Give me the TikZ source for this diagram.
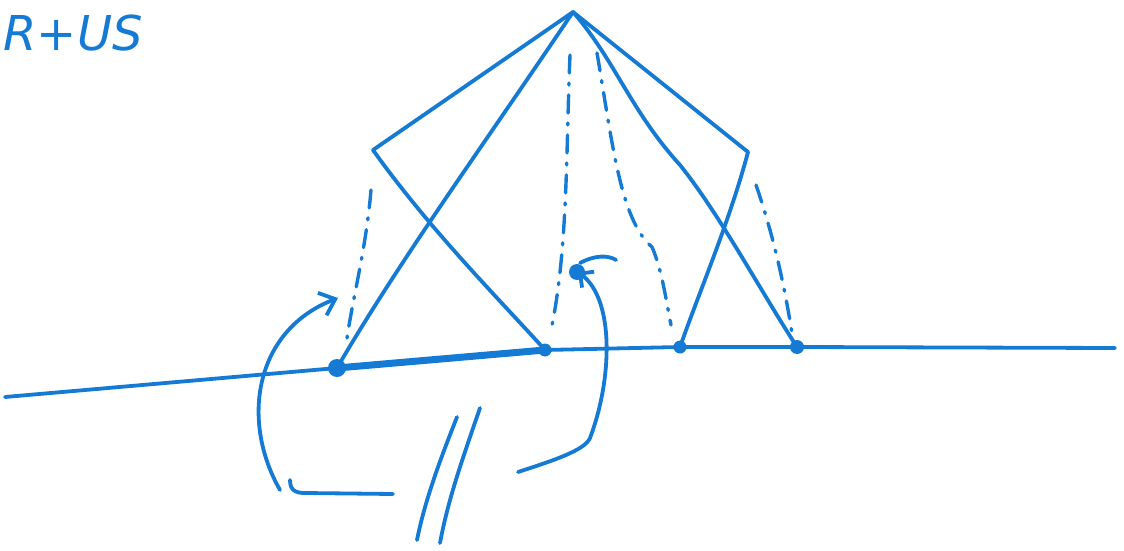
\documentclass[tikz,border=0pt]{standalone}
\usepackage{fontspec}
\setsansfont{DejaVu Sans}
\usetikzlibrary{arrows.meta}
\definecolor{ink}{RGB}{20,122,212}
\begin{document}
\begin{tikzpicture}[x=1pt,y=-1pt,
  pen/.style={draw=ink,line width=3.8pt,line cap=round,line join=round},
  dashdot/.style={draw=ink,line width=3.4pt,line cap=round,dash pattern=on 18pt off 10pt on 2pt off 10pt},
  dotnode/.style={circle,fill=ink,inner sep=0pt,minimum size=#1}]
\useasboundingbox (0,0) rectangle (1124,551);
% text
\node[anchor=west,text=ink,font=\sffamily\itshape\fontsize{48}{48}\selectfont] (title) at (0,33) {R+US};
% key points
\coordinate (A) at (573,12);
\coordinate (L) at (373,150);
\coordinate (R) at (748,152);
\coordinate (G0) at (5,397);
\coordinate (G5) at (1115,348);
\node[dotnode=18pt] (P1) at (337,368) {};
\node[dotnode=13pt] (P2) at (545,350) {};
\node[dotnode=13pt] (P3) at (680,347) {};
\node[dotnode=14pt] (P4) at (797,347) {};
% ground line
\draw[pen] (G0) -- (P1.center) -- (P2.center) -- (P3.center) -- (P4.center) -- (G5);
\draw[draw=ink,line width=7pt,line cap=round] (P1.center) -- (P2.center);
% roof
\draw[pen] (L) -- (A) -- (R);
\draw[pen] (L) .. controls (430,230) and (500,300) .. (P2.center);
\draw[pen] (A) .. controls (480,150) and (400,260) .. (P1.center);
\draw[pen] (R) .. controls (730,220) and (700,290) .. (P3.center);
\draw[pen] (A) .. controls (615,60) and (630,110) .. (680,165) .. controls (720,215) and (760,290) .. (P4.center);
% dash-dot projections
\draw[dashdot] (371,190) .. controls (366,250) and (352,300) .. (346,345);
\draw[dashdot] (570,55) .. controls (566,150) and (568,250) .. (551,330);
\draw[dashdot] (597,53) .. controls (612,140) and (620,220) .. (652,247) .. controls (662,270) and (666,300) .. (671,325);
\draw[dashdot] (756,185) .. controls (775,240) and (785,290) .. (792,333);
% left arrow
\coordinate (la0) at (280,490);
\coordinate (la1) at (338,298);
\draw[pen,-{Straight Barb[length=14pt,width=24pt]}] (la0) .. controls (240,420) and (255,330) .. (la1);
% bracket
\coordinate (b0) at (290,480);
\coordinate (b1) at (393,494);
\draw[pen] (b0) .. controls (290,490) and (295,493) .. (305,493) -- (b1);
% double slash
\coordinate (s1a) at (457,417); \coordinate (s1b) at (417,540);
\coordinate (s2a) at (480,408); \coordinate (s2b) at (440,543);
\draw[pen] (s1a) .. controls (440,460) and (425,500) .. (s1b);
\draw[pen] (s2a) .. controls (462,460) and (448,500) .. (s2b);
% right arrow
\coordinate (ra0) at (518,472);
\coordinate (ra1) at (578,272);
\draw[pen,-{Straight Barb[length=10pt,width=20pt]}] (ra0) .. controls (555,460) and (585,450) .. (590,438) .. controls (612,380) and (615,300) .. (ra1);
\draw[pen] (580,263) .. controls (595,255) and (608,255) .. (616,260);
\node[dotnode=16pt] (rblob) at (577,272) {};
\end{tikzpicture}
\end{document}
